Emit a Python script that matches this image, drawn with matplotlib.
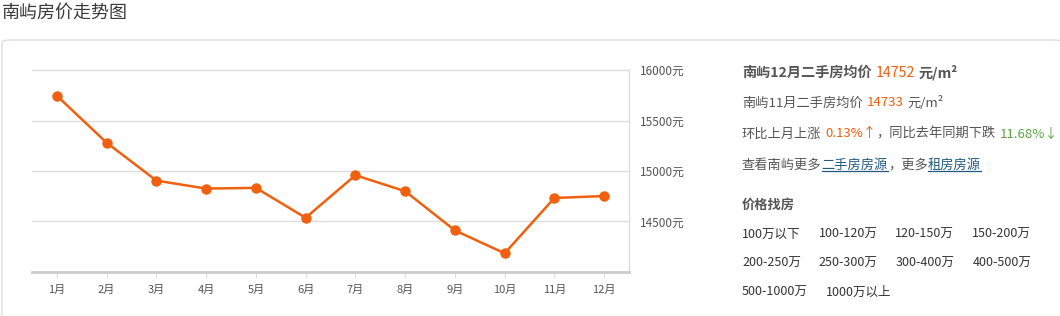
import matplotlib
matplotlib.use("Agg")
import matplotlib.pyplot as plt
from matplotlib.patches import FancyBboxPatch
from matplotlib.lines import Line2D

plt.rcParams["font.family"] = ["Noto Sans CJK SC", "DejaVu Sans"]

months = ["1月", "2月", "3月", "4月", "5月", "6月", "7月", "8月", "9月", "10月", "11月", "12月"]
prices = [15745, 15280, 14905, 14826, 14833, 14537, 14958, 14800, 14412, 14185, 14733, 14752]
yticks = [14500, 15000, 15500, 16000]
ytick_labels = ["14500元", "15000元", "15500元", "16000元"]
price_ranges = [["100万以下", "100-120万", "120-150万", "150-200万"],
                ["200-250万", "250-300万", "300-400万", "400-500万"],
                ["500-1000万", "1000万以上"]]

W, H = 1060, 316
ORANGE = "#f0600f"
TXT = "#555555"

fig = plt.figure(figsize=(W / 100, H / 100), dpi=100)
fig.patch.set_facecolor("white")

# outer box (behind the chart)
box = FancyBboxPatch((2 / W, 1 - 320 / H), 1060 / W, 280 / H,
                     boxstyle="round,pad=0,rounding_size=0.008",
                     transform=fig.transFigure, fc="white", ec="#dddddd", lw=1, zorder=-5)
fig.add_artist(box)

fig.text(2 / W, 1 - 13 / H, "南屿房价走势图", fontsize=13, color="#3a3a3a", va="center", ha="left")

ax = fig.add_axes([32 / W, 44 / H, 597 / W, 202 / H])
ax.set_facecolor("none")
x = list(range(len(months)))
ax.plot(x, prices, color=ORANGE, lw=1.8, marker="o", ms=6.5, zorder=3)
ax.set_xlim(-0.5, len(months) - 0.5)
ax.set_ylim(14000, 16000)
ax.set_xticks(x)
ax.set_xticklabels(months, fontsize=8, color=TXT)
ax.yaxis.tick_right()
ax.set_yticks(yticks)
ax.set_yticklabels(ytick_labels, fontsize=8.5, color=TXT)
ax.tick_params(axis="y", length=0, pad=8)
ax.tick_params(axis="x", length=4, color="#dddddd", pad=5)
for yv in yticks:
    ax.axhline(yv, color="#dddddd", lw=1, zorder=1, clip_on=False)
for s in ["left", "top"]:
    ax.spines[s].set_visible(False)
ax.spines["bottom"].set_color("#cccccc")
ax.spines["bottom"].set_linewidth(2)
ax.spines["right"].set_color("#dddddd")
ax.spines["right"].set_linewidth(1)

renderer = fig.canvas.get_renderer()


def put_line(x0, y0, pieces, size=9.5):
    cx = x0
    for txt, color, weight, under, gap in pieces:
        t = fig.text(cx / W, 1 - y0 / H, txt, fontsize=size, color=color,
                     fontweight=weight, va="center", ha="left")
        bb = t.get_window_extent(renderer)
        if under:
            fig.add_artist(Line2D([bb.x0 / W, bb.x1 / W], [(bb.y0 + 1) / H] * 2,
                                  transform=fig.transFigure, color=color, lw=0.9))
        cx = bb.x1 + gap


X0 = 742
put_line(X0, 73, [("南屿12月二手房均价", TXT, "bold", False, 4),
                  ("14752", ORANGE, "normal", False, 4),
                  ("元/m²", TXT, "bold", False, 0)], size=10.2)
put_line(X0, 103, [("南屿11月二手房均价", TXT, "normal", False, 4),
                   ("14733", ORANGE, "normal", False, 4),
                   ("元/m²", TXT, "normal", False, 0)])
put_line(X0, 134, [("环比上月上涨", TXT, "normal", False, 4),
                   ("0.13%↑", ORANGE, "normal", False, 0),
                   ("，同比去年同期下跌", TXT, "normal", False, 4),
                   ("11.68%↓", "#5aa640", "normal", False, 0)])
put_line(X0, 165, [("查看南屿更多", TXT, "normal", False, 0),
                   ("二手房房源", "#1f5a85", "normal", True, 0),
                   ("，更多", TXT, "normal", False, 0),
                   ("租房房源", "#1f5a85", "normal", True, 0)])
put_line(X0, 205, [("价格找房", TXT, "bold", False, 0)])
for i, row in enumerate(price_ranges):
    put_line(X0, 234 + i * 29, [(r, "#333333", "normal", False, 18) for r in row], size=9)

fig.savefig("out.png", dpi=100, facecolor="white")
